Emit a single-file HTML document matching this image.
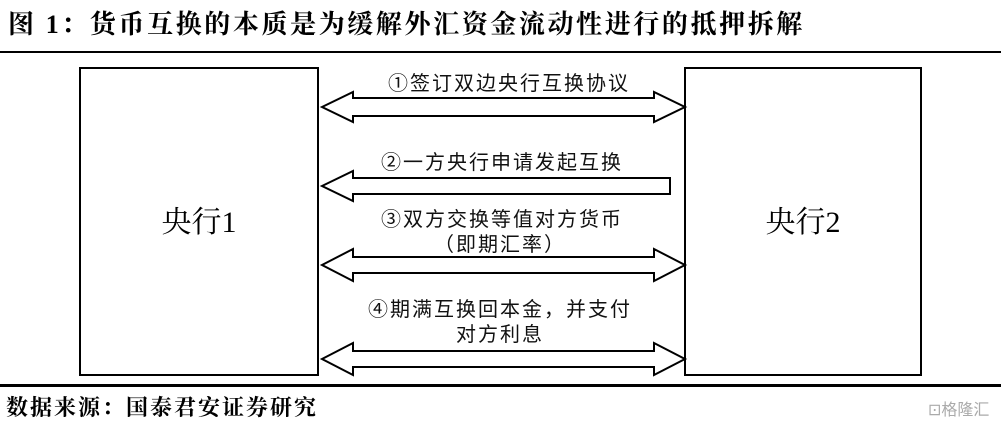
<!DOCTYPE html>
<html><head><meta charset="utf-8"><style>
body{margin:0;width:1001px;height:431px;background:#fff;overflow:hidden;position:relative}
</style></head><body>
<svg width="1001" height="431" xmlns="http://www.w3.org/2000/svg" style="position:absolute;left:0;top:0">
<text x="8" y="33" font-family="'Liberation Serif','Noto Serif CJK SC',serif" font-weight="bold" font-size="26" letter-spacing="2.6">图 1：货币互换的本质是为缓解外汇资金流动性进行的抵押拆解</text>
<rect x="0" y="51" width="1001" height="2" fill="#000"/>
<rect x="80" y="68" width="238" height="307" fill="none" stroke="#000" stroke-width="2"/>
<rect x="685" y="68" width="236" height="307" fill="none" stroke="#000" stroke-width="2"/>
<g font-family="'Liberation Serif','Noto Serif CJK SC',serif" font-size="30" text-anchor="middle">
<text x="199" y="232">央行1</text><text x="803" y="232">央行2</text></g>
<g fill="#fff" stroke="#000" stroke-width="2">
<polygon points="322,107 353,92 353,98 654,98 654,92 685,107 654,122 654,116 353,116 353,122"/>
<polygon points="322,186 353,171 353,178 670,178 670,194 353,194 353,201"/>
<polygon points="322,265 353,249 353,257 654,257 654,249 685,265 654,281 654,273 353,273 353,281"/>
<polygon points="322,359 353,343 353,351 654,351 654,343 685,359 654,375 654,367 353,367 353,375"/>
</g>
<g font-family="'Liberation Sans','Noto Sans CJK SC',sans-serif" font-size="20" text-anchor="middle" fill="#111" letter-spacing="2">
<text x="509" y="90">①签订双边央行互换协议</text>
<text x="502" y="169">②一方央行申请发起互换</text>
<text x="502" y="226">③双方交换等值对方货币</text>
<text x="500" y="251">（即期汇率）</text>
<text x="500" y="316">④期满互换回本金，并支付</text>
<text x="500" y="341">对方利息</text>
</g>
<rect x="0" y="384" width="1001" height="3" fill="#000"/>
<text x="6" y="415" font-family="'Liberation Serif','Noto Serif CJK SC',serif" font-weight="bold" font-size="22" letter-spacing="2">数据来源：国泰君安证券研究</text>
<text x="928" y="415" font-family="'Liberation Sans','Noto Sans CJK SC',sans-serif" font-size="16" fill="#aaa">⊡格隆汇</text>
</svg>
</body></html>
